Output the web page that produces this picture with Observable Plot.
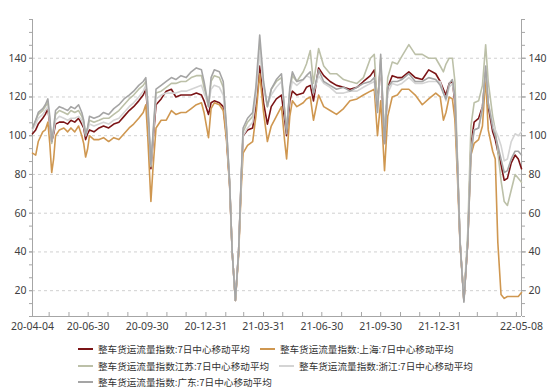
<!DOCTYPE html>
<html><head><meta charset="utf-8">
<script src="https://cdn.jsdelivr.net/npm/d3@7"></script>
<script src="https://cdn.jsdelivr.net/npm/@observablehq/plot@0.6"></script>
<style>
body{margin:0;background:#fff;font-family:"Noto Sans CJK SC","Noto Sans",sans-serif;}
#chart{position:absolute;left:0;top:0;}
#legend{position:absolute;left:78px;top:341px;width:425px;display:flex;flex-wrap:wrap;column-gap:10px;font-size:9.6px;color:#333;line-height:16.5px;font-family:"Noto Sans CJK SC",sans-serif;}
.item{display:flex;align-items:center;white-space:nowrap}
.sw{width:15px;height:2px;margin-right:5px}
</style></head><body>
<div id="chart"></div><div id="legend"></div>
<script>
const dates = ["2020-04-04","2020-04-09","2020-04-13","2020-04-20","2020-04-24","2020-04-28","2020-05-01","2020-05-04","2020-05-07","2020-05-10","2020-05-16","2020-05-23","2020-05-29","2020-06-03","2020-06-09","2020-06-15","2020-06-20","2020-06-23","2020-06-26","2020-06-29","2020-07-02","2020-07-09","2020-07-17","2020-07-24","2020-08-01","2020-08-09","2020-08-17","2020-08-25","2020-09-02","2020-09-09","2020-09-17","2020-09-24","2020-09-28","2020-10-01","2020-10-06","2020-10-09","2020-10-14","2020-10-22","2020-10-30","2020-11-07","2020-11-14","2020-11-22","2020-11-30","2020-12-08","2020-12-16","2020-12-24","2020-12-28","2021-01-04","2021-01-08","2021-01-13","2021-01-21","2021-01-27","2021-02-01","2021-02-06","2021-02-10","2021-02-15","2021-02-20","2021-02-24","2021-02-27","2021-03-06","2021-03-14","2021-03-19","2021-03-25","2021-03-31","2021-04-06","2021-04-12","2021-04-20","2021-04-28","2021-05-03","2021-05-06","2021-05-11","2021-05-15","2021-05-22","2021-06-01","2021-06-06","2021-06-12","2021-06-17","2021-06-25","2021-07-03","2021-07-13","2021-07-23","2021-08-03","2021-08-13","2021-08-24","2021-09-03","2021-09-14","2021-09-20","2021-09-25","2021-09-30","2021-10-06","2021-10-11","2021-10-18","2021-10-26","2021-11-02","2021-11-13","2021-11-23","2021-12-04","2021-12-14","2021-12-25","2022-01-01","2022-01-06","2022-01-10","2022-01-15","2022-01-20","2022-01-24","2022-01-28","2022-02-01","2022-02-07","2022-02-13","2022-02-18","2022-02-23","2022-03-02","2022-03-08","2022-03-13","2022-03-17","2022-03-24","2022-03-28","2022-04-01","2022-04-06","2022-04-11","2022-04-16","2022-04-22","2022-04-28","2022-05-03","2022-05-08"];
const guangdong = [104,108,112,114,116,119,110,97,104,113,115,114,113,115,114,116,112,108,100,104,110,109,110,112,111,114,116,119,121,123,126,128,130,118,85,100,124,126,128,130,129,131,130,133,135,134,128,115,130,134,133,128,105,76,40,15,40,78,104,109,112,125,152,128,115,124,129,132,112,101,125,133,128,129,131,133,122,134,128,126,124,125,123,125,127,128,130,112,142,96,125,128,128,129,132,128,128,130,129,126,122,119,127,129,120,85,45,14,45,90,103,104,114,136,117,104,100,95,88,81,82,88,92,92,90];
const jiangsu = [104,108,111,113,115,117,108,96,103,111,113,112,111,113,112,113,110,107,101,104,108,107,108,109,109,111,113,116,119,121,124,126,128,115,84,98,122,123,125,127,127,128,128,130,131,131,125,115,128,131,130,125,104,76,40,15,40,77,102,107,110,122,146,126,115,124,128,130,113,104,123,131,128,133,137,144,127,145,136,132,132,129,128,127,130,140,142,115,140,100,130,138,137,141,147,142,142,140,140,136,133,137,140,140,128,88,46,15,50,105,117,118,126,147,128,110,103,92,77,66,64,72,80,78,76];
const zhejiang = [103,106,109,111,113,115,107,98,102,108,110,109,108,109,109,110,108,105,100,103,106,105,106,107,106,108,109,112,115,117,120,123,126,115,85,98,119,121,122,122,122,123,123,124,125,126,122,116,124,126,125,121,103,76,40,15,40,77,100,104,107,120,144,125,116,121,125,128,113,103,122,128,126,129,131,130,122,131,127,125,122,122,123,123,125,127,128,112,138,98,122,127,126,127,130,127,127,128,128,128,122,118,125,127,119,85,45,15,45,92,103,104,115,135,117,107,103,100,95,87,88,97,101,100,102];
const national = [101,103,106,109,111,114,106,97,101,106,107,107,106,108,107,109,106,104,98,101,103,102,104,105,104,106,107,110,113,115,118,121,124,112,83,96,116,119,123,124,120,121,121,121,122,121,118,111,117,118,117,115,100,75,40,15,40,76,100,103,104,115,136,117,106,115,119,121,108,100,118,123,121,122,125,126,118,135,131,128,126,125,124,125,128,131,134,117,137,96,125,131,130,130,133,130,129,134,132,128,124,121,127,128,117,84,45,15,45,95,107,109,115,133,115,102,98,92,85,77,78,86,90,88,83];
const shanghai = [91,90,97,102,103,107,96,81,88,100,103,104,102,104,102,105,100,96,89,93,100,98,98,99,97,99,98,101,104,106,109,112,116,100,66,82,104,108,108,113,111,112,112,114,116,117,112,99,114,117,116,113,98,74,40,15,38,72,91,95,97,110,132,112,97,105,110,115,97,88,110,118,115,117,119,120,108,121,115,113,111,114,118,119,121,123,124,100,118,82,110,120,121,124,124,121,116,119,122,120,108,112,120,119,108,78,44,15,45,90,96,98,105,130,103,92,88,45,18,16,17,17,17,17,19];
const seriesNames = ["整车货运流量指数:7日中心移动平均","整车货运流量指数:上海:7日中心移动平均","整车货运流量指数江苏:7日中心移动平均","整车货运流量指数:浙江:7日中心移动平均","整车货运流量指数:广东:7日中心移动平均"];
const seriesValues = [national, shanghai, jiangsu, zhejiang, guangdong];
const seriesColors = ["#7b1416","#cf9750","#bcc0a8","#d4d4d4","#a5a5a5"];
const yTicks = [20,40,60,80,100,120,140];
const yMinorTicks = d3.range(1,25).map(i => i*20/3);
const yDomain = [20/3, 160];
const xDomain = ["2020-04-04","2022-05-08"];
const xLabelDates = ["2020-04-04","2020-06-30","2020-09-30","2020-12-31","2021-03-31","2021-06-30","2021-09-30","2021-12-31","2022-05-08"];
const xMinorDates = ["2020-04-30","2020-05-31","2020-06-30","2020-07-31","2020-08-31","2020-09-30","2020-10-31","2020-11-30","2020-12-31","2021-01-31","2021-02-28","2021-03-31","2021-04-30","2021-05-31","2021-06-30","2021-07-31","2021-08-31","2021-09-30","2021-10-31","2021-11-30","2021-12-31","2022-01-31","2022-02-28","2022-03-31","2022-04-30"];

const parse = d3.utcParse("%Y-%m-%d");
const rows = [];
seriesNames.forEach((name, s) => {
  dates.forEach((d, i) => rows.push({series: name, date: parse(d), value: seriesValues[s][i]}));
});
const W = 550, H = 336, mT = 19, mB = 20, mL = 32, mR = 29;
const frameH = H - mT - mB;
const axisColor = "#a6a6a6";
const font = "'Noto Sans','Open Sans',sans-serif";

const chart = Plot.plot({
  width: W, height: H,
  marginTop: mT, marginBottom: mB, marginLeft: mL, marginRight: mR,
  style: {fontFamily: font, fontSize: "10.5px", color: "#404040", background: "#fff"},
  x: {type: "utc", domain: xDomain.map(parse)},
  y: {domain: yDomain},
  color: {domain: seriesNames, range: seriesColors},
  marks: [
    Plot.gridY(yTicks, {stroke: "#d0d0d0", strokeOpacity: 1, strokeDasharray: "3,3"}),
    Plot.axisY(yMinorTicks, {anchor: "left", tickSize: 3, tickFormat: () => "", stroke: axisColor, label: null}),
    Plot.axisY(yTicks, {anchor: "left", tickSize: 3, tickPadding: 3, stroke: axisColor, label: null}),
    Plot.axisY(yMinorTicks, {anchor: "right", tickSize: 3, tickFormat: () => "", stroke: axisColor, label: null}),
    Plot.axisY(yTicks, {anchor: "right", tickSize: 4, tickPadding: 3, stroke: axisColor, label: null}),
    Plot.axisX(xLabelDates.map(parse), {tickSize: 0, tickPadding: 6, tickFormat: d3.utcFormat("%y-%m-%d"), label: null}),
    Plot.ruleX(xMinorDates.map(parse), {stroke: axisColor, insetTop: frameH - 4}),
    Plot.ruleX(xDomain.map(parse), {stroke: axisColor}),
    Plot.ruleY([yDomain[0]], {stroke: axisColor}),
    Plot.lineY(rows, {x: "date", y: "value", z: "series", stroke: "series", strokeWidth: 1.6})
  ]
});
document.getElementById("chart").append(chart);

const legend = document.getElementById("legend");
seriesNames.forEach((name, i) => {
  const it = document.createElement("div"); it.className = "item";
  const sw = document.createElement("span"); sw.className = "sw"; sw.style.background = seriesColors[i];
  const tx = document.createElement("span"); tx.textContent = name;
  it.append(sw, tx); legend.append(it);
});
</script>
</body></html>
